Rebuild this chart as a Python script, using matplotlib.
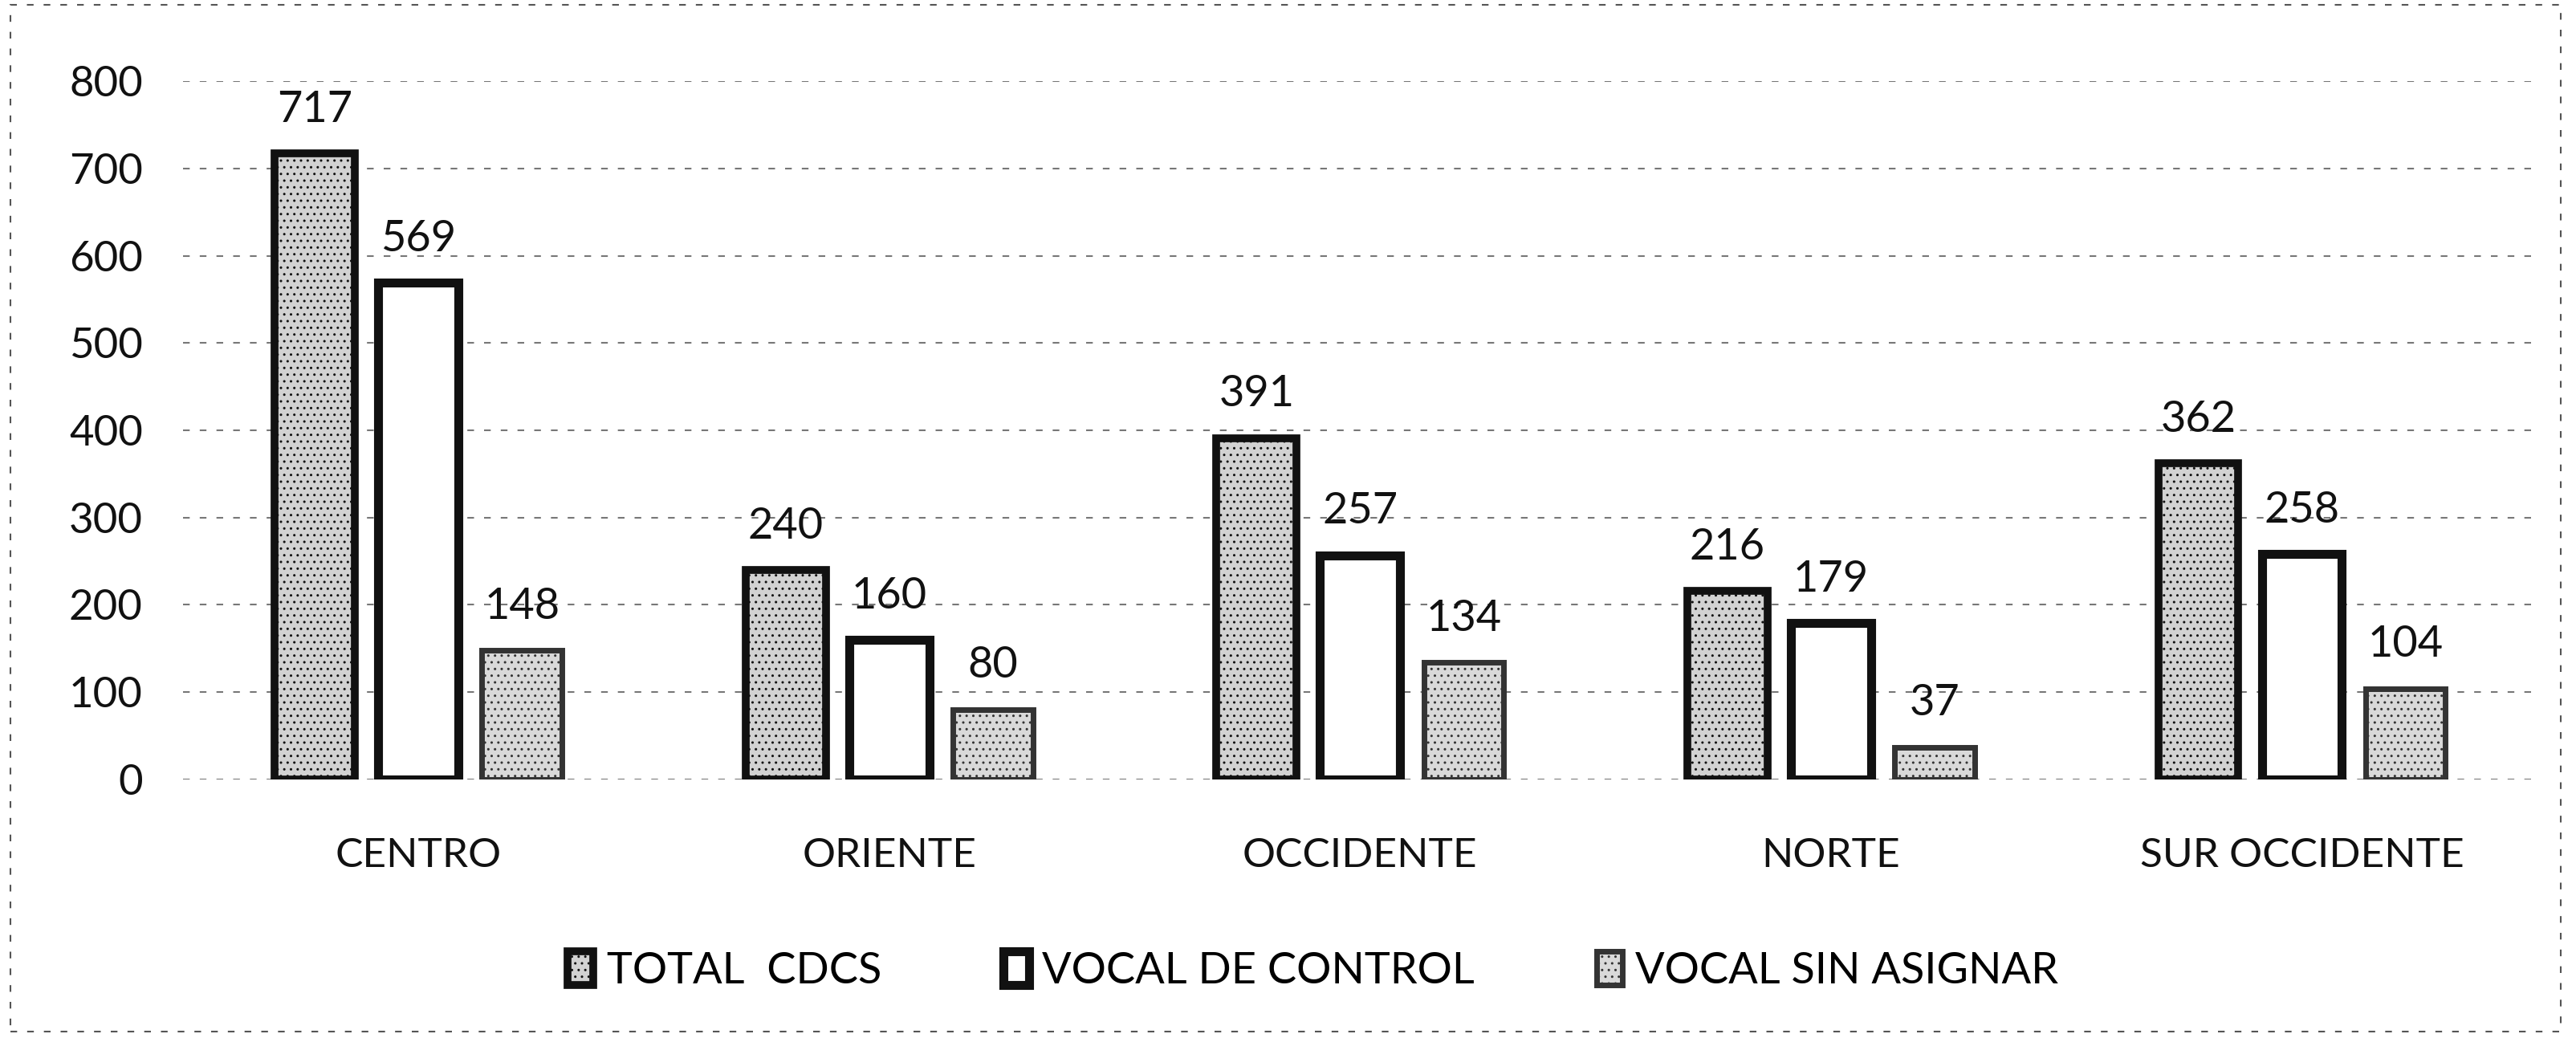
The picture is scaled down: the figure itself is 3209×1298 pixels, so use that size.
import matplotlib.pyplot as plt
import numpy as np
from matplotlib.patches import Rectangle

plt.rcParams['font.family'] = ['Lato', 'DejaVu Sans']

categories = ['CENTRO', 'ORIENTE', 'OCCIDENTE', 'NORTE', 'SUR OCCIDENTE']
series_names = ['TOTAL  CDCS', 'VOCAL DE CONTROL', 'VOCAL SIN ASIGNAR']
total_cdcs = [717, 240, 391, 216, 362]
vocal_control = [569, 160, 257, 179, 258]
vocal_sin_asignar = [148, 80, 134, 37, 104]
yticks = [0, 100, 200, 300, 400, 500, 600, 700, 800]

fig = plt.figure(figsize=(32.09, 12.98), dpi=100)
ax = fig.add_axes([0.071, 0.252, 0.914, 0.670])

x = np.arange(len(categories))
w = 0.17
offs = [-0.22, 0.0, 0.22]
faces = ['#d2d2d2', 'white', '#d9d9d9']
edges = ['#111111', '#111111', '#333333']
lws = [7, 8, 5]

for i, vals in enumerate([total_cdcs, vocal_control, vocal_sin_asignar]):
    bars = ax.bar(x + offs[i], vals, w, color=faces[i], edgecolor=edges[i],
                  linewidth=lws[i], label=series_names[i], hatch='..' if i != 1 else None,
                  zorder=3)
    for b, v in zip(bars, vals):
        ax.text(b.get_x() + b.get_width() / 2, v + 28, str(v), ha='center',
                va='bottom', fontsize=39, color='#111111', zorder=4)

ax.set_xlim(-0.5, len(categories) - 0.5)
ax.set_ylim(0, 800)
ax.set_yticks(yticks)
ax.set_yticklabels([str(t) for t in yticks], fontsize=38)
ax.set_xticks(x)
ax.set_xticklabels(categories, fontsize=37)
ax.tick_params(length=0, pad=36, colors='#111111')
ax.tick_params(axis='x', pad=52)
ax.yaxis.grid(True, linestyle=(0, (4, 6)), color='#777777', linewidth=1.5, zorder=0)
for s in ax.spines.values():
    s.set_visible(False)

leg = ax.legend(loc='upper center', bbox_to_anchor=(0.48, -0.19), ncol=3, frameon=False,
                fontsize=39, handlelength=0.6, handleheight=0.8, handletextpad=0.3,
                columnspacing=2.8)

fig.patches.append(Rectangle((0.004, 0.01), 0.99, 0.985, transform=fig.transFigure,
                             fill=False, edgecolor='#555555', linewidth=1.5,
                             linestyle=(0, (4, 6))))

fig.savefig('out.png', dpi=100)
